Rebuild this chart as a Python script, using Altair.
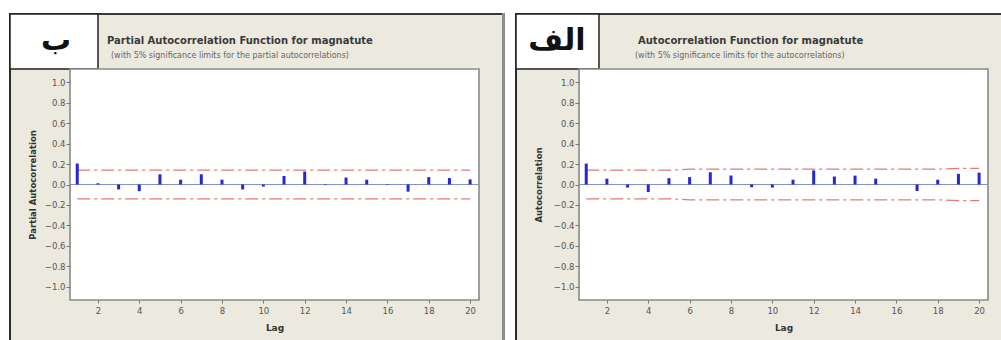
import altair as alt
import pandas as pd

# ---- data ----
lags = list(range(1, 21))
pacf_vals = [0.205, 0.012, -0.048, -0.065, 0.10, 0.047, 0.10, 0.047, -0.048, -0.02,
             0.083, 0.127, -0.006, 0.068, 0.047, -0.005, -0.07, 0.072, 0.063, 0.05]
pacf_limits = [0.14] * 20
acf_vals = [0.205, 0.057, -0.03, -0.073, 0.062, 0.072, 0.12, 0.088, -0.027, -0.03,
            0.047, 0.138, 0.078, 0.087, 0.057, 0.0, -0.064, 0.047, 0.104, 0.116]
acf_limits = [0.14, 0.14, 0.14, 0.14, 0.14, 0.15, 0.15, 0.15, 0.15, 0.15,
              0.15, 0.15, 0.15, 0.15, 0.15, 0.15, 0.15, 0.15, 0.158, 0.158]
y_ticks = [-1.0, -0.8, -0.6, -0.4, -0.2, 0.0, 0.2, 0.4, 0.6, 0.8, 1.0]
x_ticks = [2, 4, 6, 8, 10, 12, 14, 16, 18, 20]

W, H = 409, 231
BEIGE = "#ECE9DF"
FONT = "DejaVu Sans"

one = pd.DataFrame({"k": [0]})


def rect(x, x2, y, y2, fill, stroke=None, sw=0):
    kw = dict(fill=fill, strokeWidth=sw)
    if stroke:
        kw["stroke"] = stroke
    return alt.Chart(one).mark_rect(**kw).encode(
        x=alt.value(x), x2=alt.value(x2), y=alt.value(y), y2=alt.value(y2))


def text(x, y, s, size, weight="normal", color="#333", align="left", baseline="alphabetic"):
    return alt.Chart(one).mark_text(
        font=FONT, fontSize=size, fontWeight=weight, color=color,
        align=align, baseline=baseline).encode(
        x=alt.value(x), y=alt.value(y), text=alt.value(s))


def panel(vals, lims, letter, letter_x, title, title_x, sub, sub_x,
          ytitle, ytitle_x, fl, fr, right_border, box_r):
    df = pd.DataFrame({"lag": lags, "val": vals, "lim": lims,
                       "nlim": [-v for v in lims], "zero": [0.0] * len(lags)})
    xs = alt.Scale(domain=[0.65, 20.43], nice=False, zero=False)
    ys = alt.Scale(domain=[-1.13, 1.13], nice=False, zero=False)
    xax = alt.Axis(values=x_ticks, format="d", title="Lag", zindex=1, grid=False,
                   domain=False, tickSize=3, tickColor="#777", labelColor="#555",
                   labelFont=FONT, labelFontSize=8.5, labelPadding=3, labelOverlap=False,
                   titleFont=FONT, titleFontSize=9, titleFontWeight="bold",
                   titleColor="#333", titleY=27, titleBaseline="middle")
    yax = alt.Axis(values=y_ticks, format=".1f", title=ytitle, zindex=1, grid=False,
                   domain=False, tickSize=4, tickColor="#777", labelColor="#555",
                   labelFont=FONT, labelFontSize=8.5, labelPadding=1, labelOverlap=False,
                   titleFont=FONT, titleFontSize=8.5, titleFontWeight="bold",
                   titleColor="#333", titleX=ytitle_x, titleY=H / 2,
                   titleAngle=270, titleAlign="center", titleBaseline="middle")

    X = alt.X("lag:Q", scale=xs, axis=xax)
    base = alt.Chart(df)
    layers = [
        rect(fl, fr, -56, H + 40, BEIGE),
        rect(fl, fr, -56, -54, "#3a3a3a"),
        rect(fl, fl + 2, -56, H + 40, "#2a2a2a"),
    ]
    if right_border:
        layers.append(rect(fr - 3, fr, -56, H + 40, "#8c8c8c"))
    layers += [
        rect(fl + 1, box_r, -55, 0, "white", "#222", 1.5),
        text(letter_x, -28, letter, 30, "bold", "#111", "center", "middle"),
        text(title_x, -25, title, 10, "bold", "#3a3a3a"),
        text(sub_x, -11, sub, 8, "normal", "#666"),
        rect(0, W, 0, H, "white", "#8a8a8a", 1.6),
        base.mark_rule(color="#8593bf", strokeWidth=1).encode(
            x=alt.value(0), x2=alt.value(W), y=alt.Y("zero:Q", scale=ys, axis=yax)),
        base.mark_line(color="#e37a76", strokeWidth=1.2, strokeDash=[13, 4, 3, 4]).encode(
            x=X, y=alt.Y("lim:Q", scale=ys, axis=yax)),
        base.mark_line(color="#e37a76", strokeWidth=1.2, strokeDash=[13, 4, 3, 4]).encode(
            x=X, y=alt.Y("nlim:Q", scale=ys, axis=yax)),
        base.mark_rule(color="#2626d9", strokeWidth=3, strokeCap="butt").encode(
            x=X, y=alt.Y("val:Q", scale=ys, axis=yax), y2="zero:Q"),
    ]
    return alt.layer(*layers).properties(width=W, height=H)


left = panel(pacf_vals, pacf_limits, "ب", -14,
             "Partial Autocorrelation Function for magnatute", 37,
             "(with 5% significance limits for the partial autocorrelations)", 41,
             "Partial Autocorrelation", -38, -61, 435, True, 28)
right = panel(acf_vals, acf_limits, "الف", -22,
              "Autocorrelation Function for magnatute", 59,
              "(with 5% significance limits for the autocorrelations)", 56,
              "Autocorrelation", -41, -64, 422, False, 20)

chart = alt.hconcat(left, right, spacing=10).properties(
    padding={"left": 9, "top": 13, "right": 0, "bottom": 0},
    background="white",
).configure_view(strokeWidth=0).configure_axis(labelOverlap=False, labelBound=False)

chart.save("out.html", embed_options={"renderer": "svg", "actions": False})
